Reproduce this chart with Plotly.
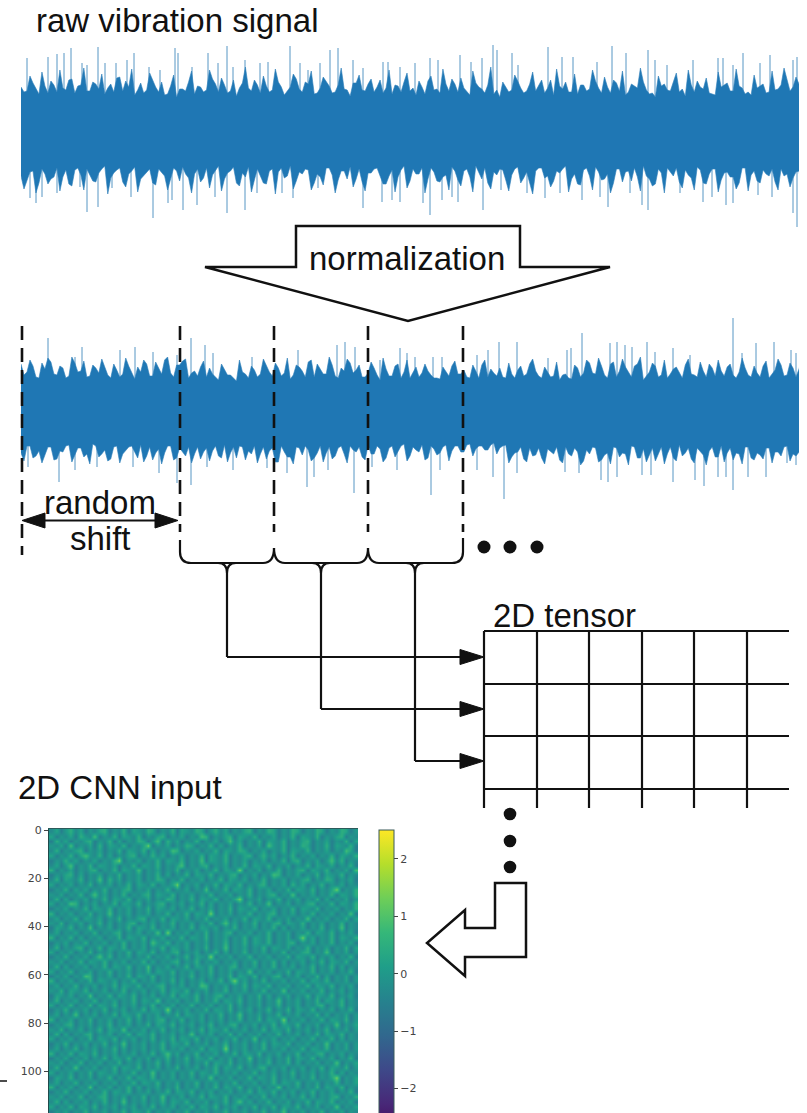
import numpy as np
import plotly.graph_objects as go

W, H = 807, 1113
BLUE = "#1f77b4"
SPIKE = "#5796c4"
INK = "#111111"

# ---------- signal data (samples on x, amplitude on y) ----------
raw_up_env = [4.3,3.9,4.7,3.6,4.4,4.9,3.8,4.2,5.0,3.7,4.5,3.9,4.8,4.1,3.6,4.6,5.2,3.9,4.3,3.5,4.7,4.0,4.9,3.8,3.5,4.4,3.3,4.1,4.8,3.6,4.3,4.0,5.1,3.8,4.5,3.9,3.4,4.7,4.2,5.0,3.7,4.4,4.0,4.8,3.5,4.3,5.1,3.8,4.6,3.6,4.2,4.9,3.7,4.5,4.1,3.4,4.7,4.0,4.6,3.8,5.0,4.2,3.6,4.4,4.8,3.9,3.5,4.3,4.9,4.0,3.7,4.6,5.1,3.8,4.2,3.5,4.7,4.1,4.5,3.6,3.3,4.3,4.0,4.9,3.7,4.6,3.9,5.0,4.2,3.5,4.4,4.8,3.8,3.6,4.5,4.1,4.9,3.7,4.3,5.0,3.9,3.5,4.6,4.2,4.8,3.6,3.3,4.4,4.0,4.7,3.8,3.4,4.5,4.9,4.1,3.7,3.5,4.3,4.7,3.9,4.4,3.6,3.5,4.2,4.6,3.8,4.0,4.5,4.9,4.3,4.6]
raw_up_fringe = [3.8,5.4,4.1,5.8,3.7,4.5,6.0,4.0,5.1,4.4,6.2,3.9,4.6,5.6,4.2,3.8,5.3,4.9,6.1,4.0,3.7,5.7,4.3,4.8,3.6,5.5,4.1,3.9,5.9,4.4,3.8,6.0,4.6,5.2,3.7,5.0,4.2,6.3,3.9,4.5,5.4,3.8,6.1,4.3,3.9,5.6,4.1,4.8,5.9,3.7,5.3,4.4,3.8,6.2,4.0,4.7,5.5,3.9,5.1,4.3,3.7,6.0,4.5,3.8,5.7,4.2,4.9,3.6,5.4,4.1,6.1,3.9,4.6,5.2,3.8,5.9,4.3,3.7,6.3,4.0,4.8,3.8,5.5,4.2,3.9,5.8,4.4,3.7,5.0,6.1,4.1,3.8,5.6,4.5,3.9,6.0,4.2,5.3,3.7,4.7,5.9,3.8,4.4,6.2,4.0,3.7,5.4,4.6,3.9,5.7,4.1,6.0,3.8,4.3,5.2,3.6,5.8,4.5,3.9,6.1,4.2,3.8,5.5,4.4,3.7,5.9,4.1,6.2,3.9,5.3]
raw_low_env = [4.6,5.0,4.1,5.3,4.4,4.9,3.8,4.7,5.4,4.0,4.5,3.9,5.1,4.3,3.6,4.8,4.0,5.2,4.4,3.7,4.9,4.2,5.3,3.9,4.6,5.0,4.1,3.7,4.8,4.4,5.2,3.8,4.5,3.6,4.9,4.1,5.3,4.3,3.7,5.0,4.6,5.4,3.9,4.2,4.8,3.6,5.1,4.4,4.0,5.3,4.7,3.8,4.5,5.0,4.1,3.7,4.9,5.2,4.3,3.9,4.6,5.4,4.0,4.7,3.6,5.1,4.4,3.8,4.9,4.2,5.2,4.5,3.7,5.0,4.1,4.7,3.6,4.9,5.3,4.2,3.9,5.0,4.5,3.7,4.8,5.3,4.1,3.8,4.6,5.1,4.3,3.6,4.9,5.4,4.0,4.6,3.7,5.0,4.4,5.3,3.9,4.2,5.1,4.7,3.6,4.9,5.4,4.3,3.8,4.6,5.2,4.0,4.8,3.7,5.3,4.4,3.9,5.0,4.2,4.7,5.3,3.8,4.5,5.1,4.0,4.6,5.2,3.9,4.4,4.8,4.1]
raw_low_fringe = [5.9,4.2,6.3,3.9,5.4,4.7,6.1,4.0,5.6,3.8,6.0,4.5,5.2,3.9,6.4,4.3,3.8,5.7,4.1,6.2,4.6,3.9,5.5,4.2,6.0,3.8,5.1,4.4,6.3,3.9,4.8,5.8,4.0,6.1,4.3,3.7,5.6,4.7,6.2,3.9,5.3,4.1,6.4,3.8,4.6,5.9,4.2,3.9,6.0,4.4,5.5,3.8,6.3,4.1,4.9,5.7,3.9,6.1,4.3,3.8,5.4,4.6,6.2,4.0,5.8,3.9,4.4,6.3,3.8,5.1,4.7,6.0,4.1,5.6,3.9,6.2,4.3,3.8,5.9,4.5,4.0,6.1,3.9,5.3,4.2,6.4,3.8,4.8,5.7,4.1,3.9,6.2,4.4,5.5,3.8,6.0,4.2,4.9,6.3,3.9,5.2,4.1,3.8,6.1,4.6,5.6,3.9,6.3,4.2,3.8,5.8,4.5,6.0,4.0,5.4,3.9,6.2,4.3,4.7,5.9,3.8,6.1,4.1,5.3,4.4,3.9,6.0,4.6,5.7,4.2,6.2]
raw_up_x = [27,48,57,64,71,82,87,98,105,116,127,134,149,160,175,178,192,208,218,227,233,245,260,268,290,300,308,320,330,338,353,363,383,388,400,415,430,438,460,471,482,493,497,512,518,548,562,573,597,612,626,648,655,667,693,718,723,733,743,760,770,793,797]
raw_up_amp = [7.2,7.3,7.6,7.7,8.2,6.7,6.5,8.3,6.7,6.7,7.0,7.7,6.3,6.0,8.2,7.7,6.3,7.7,6.7,8.4,6.3,7.0,6.7,6.8,8.4,6.7,6.0,6.7,8.0,8.2,7.0,6.2,6.8,6.8,6.3,6.7,7.2,7.0,7.5,6.8,7.2,8.5,8.0,7.7,6.5,8.3,7.3,7.3,6.8,8.4,7.7,8.0,7.0,6.5,7.0,7.2,7.2,6.5,7.7,6.7,7.5,7.0,7.3]
raw_low_x = [30,36,42,57,80,87,98,112,131,153,168,172,183,197,215,227,245,257,282,293,318,363,382,392,400,423,430,442,452,458,483,501,527,545,560,582,600,608,630,642,648,680,703,712,726,733,758,772,793,797]
raw_low_amp = [6.8,7.3,6.7,6.3,5.7,8.2,7.7,5.8,6.7,8.8,7.3,7.0,8.0,7.5,6.7,8.3,8.0,6.3,6.3,6.8,5.8,7.8,7.2,7.0,7.2,7.3,8.5,7.0,6.7,7.2,8.0,6.0,6.3,6.8,6.3,7.0,6.7,7.7,6.3,7.5,8.0,6.3,7.2,6.7,7.5,7.3,6.5,6.7,8.3,9.7]

norm_up_env = [4.6,3.8,4.4,3.2,4.1,4.8,3.5,4.2,3.4,4.7,3.9,3.3,4.5,3.7,4.3,3.2,4.0,3.6,4.4,3.1,3.8,4.6,3.4,4.2,5.0,3.7,4.5,4.9,3.2,3.9,4.3,3.3,3.6,3.0,4.1,3.5,2.9,3.8,3.2,4.0,3.6,4.4,3.4,4.2,3.7,3.1,4.5,3.9,4.8,3.3,4.1,3.6,4.5,3.2,3.9,4.7,4.0,3.3,3.7,4.2,3.0,4.1,3.4,4.6,3.8,3.2,4.3,3.7,3.9,3.2,3.1,3.8,4.4,3.6,4.0,3.2,3.9,4.5,3.3,3.7,4.2,3.2,3.6,4.0,3.4,4.6,3.9,3.2,3.8,3.4,3.0,3.6,3.1,4.2,3.7,4.7,3.6,4.4,3.2,4.8,3.9,4.3,3.3,4.6,3.0,3.8,4.4,3.5,3.2,4.1,3.7,4.5,3.6,3.3,3.9,4.6,3.4,3.9,4.3,3.5,3.8,4.2,3.3,3.7,4.4,3.2,4.0,4.5,3.5,4.2,4.1]
norm_up_fringe = [3.5,5.0,3.3,4.7,5.2,3.6,4.4,3.2,5.3,3.8,4.9,3.4,4.2,5.1,3.5,4.6,3.3,5.2,3.7,4.3,5.0,3.4,4.8,3.6,5.3,3.3,4.5,5.1,3.7,3.4,4.9,4.2,3.3,4.6,3.5,3.2,5.0,3.6,4.4,3.3,5.1,3.8,4.7,3.4,5.2,3.5,4.3,3.3,5.0,4.6,3.6,5.3,3.4,4.2,5.1,3.7,4.5,3.3,4.8,3.5,5.2,3.4,4.4,3.2,5.0,3.8,3.3,4.6,3.5,3.2,4.3,3.4,4.9,3.6,3.3,4.5,3.2,5.0,4.1,3.4,3.3,4.7,3.2,4.4,3.6,5.1,3.4,4.3,3.3,4.8,3.5,3.2,4.5,3.3,5.0,3.7,5.2,3.5,4.6,3.3,5.1,3.8,4.4,5.3,3.4,4.7,3.3,5.0,3.6,4.3,3.2,5.1,3.5,4.8,3.3,4.2,5.0,3.4,4.6,3.2,5.2,3.5,4.4,3.3,4.9,3.6,5.1,3.4,4.7,3.3,5.2]
norm_low_env = [4.3,3.6,4.8,4.1,4.5,3.7,4.9,4.2,3.5,4.6,3.8,4.4,3.4,4.7,4.0,4.9,3.6,4.4,3.7,4.2,3.5,4.6,5.0,3.9,4.3,3.6,4.8,4.2,3.7,4.4,4.9,3.8,4.1,4.6,3.5,4.3,4.8,3.7,4.1,3.6,4.4,4.9,3.8,5.2,4.2,4.7,3.7,4.5,4.0,4.8,3.6,4.3,4.9,3.8,4.4,3.6,4.2,4.7,3.5,4.4,3.9,4.8,3.6,4.2,3.4,4.6,4.0,3.5,4.8,3.9,4.3,3.5,4.1,3.6,4.2,3.4,3.9,3.6,4.0,3.3,3.8,3.5,4.7,4.2,4.9,3.8,4.5,4.8,3.9,4.4,5.0,3.7,4.6,4.2,5.1,4.4,3.8,5.0,4.3,3.7,4.7,4.4,3.6,4.8,3.9,4.5,5.1,3.7,4.4,4.8,3.5,4.3,4.9,3.8,4.5,4.1,4.7,3.6,4.3,5.0,4.4,3.7,4.8,4.3,4.9,3.8,4.2,4.6,3.6,4.4,4.2]
norm_low_fringe = [5.1,3.6,4.6,5.3,3.7,5.0,4.1,3.6,5.2,3.8,4.7,5.4,3.6,4.4,5.1,3.7,5.3,4.0,3.6,4.8,5.2,3.7,4.3,5.4,3.6,5.0,3.8,4.6,5.3,3.7,4.2,5.1,3.6,4.8,5.2,3.7,3.6,5.0,4.4,5.3,3.7,4.1,5.2,3.6,4.7,5.4,3.8,3.6,5.1,4.3,5.2,3.7,4.6,3.6,5.3,4.0,3.7,5.0,4.4,3.6,5.2,3.8,4.7,3.6,5.1,3.7,4.2,5.0,3.6,4.5,3.7,5.1,3.6,4.2,3.5,4.6,3.6,4.0,3.5,4.4,3.6,5.3,4.3,3.7,5.2,4.6,3.8,5.4,4.1,3.7,5.3,4.4,3.8,5.5,4.0,3.7,5.2,4.5,5.4,3.8,4.3,5.5,3.7,4.8,5.2,3.8,4.4,5.4,3.7,5.1,4.6,3.8,5.3,4.1,5.5,3.7,4.7,5.2,3.8,4.3,5.4,3.7,5.0,4.5,3.8,5.3,4.2,3.7,5.1,4.6,5.2]
norm_up_x = [48,75,82,120,135,153,177,191,205,213,252,298,337,345,355,380,400,407,415,433,442,477,488,499,517,548,567,571,582,610,617,625,632,647,655,673,690,733,742,756,774,791,796]
norm_up_amp = [7.2,5.3,6.3,6.0,6.3,5.8,5.5,7.2,6.5,5.7,5.3,6.0,6.5,6.8,6.3,5.0,6.2,5.7,5.3,5.3,5.3,5.5,6.0,6.8,6.8,5.2,6.0,6.2,7.7,6.7,6.8,6.5,6.3,6.8,5.8,6.2,5.5,9.2,5.7,6.7,6.8,6.0,5.7]
norm_low_x = [28,59,75,97,133,159,177,191,207,233,267,287,307,314,328,354,372,397,431,440,477,493,504,517,565,579,601,608,617,642,651,673,695,704,718,726,733,748,766,787,796]
norm_low_amp = [5.7,7.2,6.0,5.7,5.7,6.3,7.3,7.5,5.7,6.0,5.8,6.3,7.7,6.7,6.0,8.3,5.7,6.0,8.5,6.0,6.0,6.7,8.9,6.3,6.2,6.3,7.0,7.2,6.7,6.5,6.5,7.2,7.0,7.6,6.7,6.7,8.0,6.7,6.7,5.3,5.5]

# ---------- 2D CNN input: coarse estimate of the image, one digit per patch ----------
cnn_levels = [-1.1,-0.8,-0.55,-0.3,0.0,0.25,0.5,0.85,1.25,1.7]
cnn_rows = [
"3524635243562436254365243625436524635243562436524365243652436524",
"5243526437243625436243562435243762435625436243524362543624356243",
"2635243562436252436524726352436243524735243625436243562435243625",
"4352724352625436243582435243652436252436243527436243652436254362",
"3624356243524362543625243762435243625436524352436254362435243752",
"5243625743625243562436352435243625436243562463524362435243625436",
"2436352435243682435243625436243725436243524352436256243524736243",
"3524724362543524362543624357243562435243625436243524362543524362",
"6243524356243625437243524362435243625438243524362435625436243527",
"2435625243524362435243625243625436243562435243762435243625436243",
"3625436243726352435243652436243524362543524362435243562436524352",
"5243524362435243625436243582435243625436243562435263524362435243",
"2436253524362435624352436243524372436254362435243625436243582436",
"4352436247352436243562543624352436243524362435624372435243625436",
"3625243524362543624352436524362543624358243524362435243625243524",
"5243762435243625436243562435243625243524362437243524356243625436",
"2435243625436243524362543524362435243625436243524362543624352436",
"6243524362437243524352436243625438243524362435624352436243524372",
"3524362543524362435624362543524362435243625436243524372435243625",
"4362435243625243562435243624352436247352436243562543624352436243",
"2543624372435243625436243524362543524362435243625243524362437243",
"3524352436243562435243728243524362435624352436243524362543624352",
"6243625243524362543624352436254362435243625436243524835243625436",
"2435243624352436243527436243524352436243625436243562435243624352",
"3624356243625436243524362543524362437243524362543524362435243625",
"5243524362435243625436243562435243625243624352436243562437243524",
"2436243524736243524362435243625438243524362435243625436243524362",
"4352436254362435243625243562436243524352436243625243524362543624",
"3625243524362543624372435243625436243562435243624352436243625243",
"5243624352436243524362543624352436243524372435243625436243524362",
"2435243762435243625436243524362435243625436243562435243625243524",
"6243524362543524362435243625243524362583524362435243625436243524",
"3524362435243625436243562435243762435243625436243524362543624352",
"4362543624352436243524362543624352436243524362437243524362435243",
"2543524372436254362435243625436243562435243625243524362543624352",
"3624352436243524362543724352436243625436243524372435243625436243",
"5243624362543624352436243524362435243625243524362435243562436243",
"2436243524362435243625438243524362543624352436243625436243524362",
"3524372435243625436243524362543524362437243524362435243625243524",
"6243524362435243625243562436243524352436243625438243524362543624",
"2435624352436243524362543624352436243562435243625436243524372435",
"4362435243625437243524362435243625436243524362543624352436243524",
"3625243562435243625436243524372435243625243524362435243625436243",
"5243524362543624352436243625436243524362437243524352436243625243",
"2436243524362437243524362543624352436243524362543624352437243524",
"3524362435243625243524362435243625438243524362435243625436243524",
"6243625436243524352436247352436243524362543624352436243562435243",
"2435243524362543624352436243625436243524372435243625436243524362",
"4352436243524362435243625243524362543624352436243625243524372435",
"3624372435243625436243524362435243625436243562435243524362543624",
"5243524362543524362437243524362543624352436243524362435243625243",
"2543624352436243625436243524352437243524362543624352436243582435",
"3524362435243524362543624352436243524362435243625436243524362435",
"6243524372435243625243524362435243625436243524372435243625436243",
"2436243524362543624352436254362435243524362543624352436243524362",
"4352436243562435243624372435243625436243524362435243625243562436",
"3625243524362437243524362543624352436247352436243524362543624352",
"5243625436243524352436243524362543624352436243625436243524372435",
"2435243624352436254362435243624352436243524362437243524362435243",
]
cbar_ticks = [-2, -1, 0, 1, 2]
heat_ticks = [0, 20, 40, 60, 80, 100]

# ---------- helpers: picture pixels to paper fractions ----------
def px(x): return x / W
def py(y): return 1 - y / H
def poly(pts): return "M" + " L".join(f"{px(x):.5f},{py(y):.5f}" for x, y in pts) + " Z"

fig = go.Figure()

def spikes(xa, ya, xs, amps, sign, color, width):
    sx, sy = [], []
    for x, a in zip(xs, amps):
        sx += [x, x, None]; sy += [0, sign * a, None]
    fig.add_trace(go.Scatter(x=sx, y=sy, mode="lines", line=dict(color=color, width=width),
                             xaxis=xa, yaxis=ya, hoverinfo="skip", showlegend=False))

def edge(env, fringe):
    """Alternate the envelope and fringe readings along the sample axis."""
    pos = np.linspace(21, 799, len(env))
    step = pos[1] - pos[0]
    xs, ys = [], []
    for i, v in enumerate(env):
        xs.append(pos[i]); ys.append(v)
        if i < len(fringe):
            xs.append(pos[i] + step / 2); ys.append(fringe[i])
    return np.array(xs), np.array(ys)

def signal(xa, ya, up_env, up_fr, low_env, low_fr, up_x, up_amp, low_x, low_amp):
    spikes(xa, ya, up_x, up_amp, 1, SPIKE, 1)
    spikes(xa, ya, low_x, low_amp, -1, SPIKE, 1)
    ux, uy = edge(up_env, up_fr)
    lx, ly = edge(low_env, low_fr)
    fig.add_trace(go.Scatter(
        x=np.r_[ux, lx[::-1]], y=np.r_[uy, -ly[::-1]], mode="lines", fill="toself",
        fillcolor=BLUE, line=dict(color="#2f80ba", width=0.6),
        xaxis=xa, yaxis=ya, hoverinfo="skip", showlegend=False))

signal("x", "y", raw_up_env, raw_up_fringe, raw_low_env, raw_low_fringe,
       raw_up_x, raw_up_amp, raw_low_x, raw_low_amp)
signal("x2", "y2", norm_up_env, norm_up_fringe, norm_low_env, norm_low_fringe,
       norm_up_x, norm_up_amp, norm_low_x, norm_low_amp)

z = [[cnn_levels[int(c)] for c in row] for row in cnn_rows]
fig.add_trace(go.Heatmap(
    z=z, x0=0.5, dx=2.0, y0=0.5, dy=2.0, xaxis="x3", yaxis="y3",
    colorscale="Viridis", zmin=-2.86, zmax=2.5, zsmooth="best", hoverinfo="skip",
    colorbar=dict(
        x=px(379), xanchor="left", xpad=0, y=py(830), yanchor="top", ypad=0,
        lenmode="pixels", len=308, thicknessmode="pixels", thickness=15,
        outlinecolor="#3a5a5a", outlinewidth=1, tickvals=cbar_ticks,
        ticktext=["\u22122", "\u22121", "0", "1", "2"],
        ticks="outside", ticklen=4, tickcolor="#444444", tickwidth=1,
        tickfont=dict(family="DejaVu Sans", size=11, color="#444444"))))

common = dict(showgrid=False, zeroline=False, showticklabels=False, ticks="", showline=False)
fig.update_layout(
    width=W, height=H, margin=dict(l=0, r=0, t=0, b=0, autoexpand=False),
    paper_bgcolor="white", plot_bgcolor="white", showlegend=False,
    xaxis=dict(domain=[px(21), px(799)], range=[21, 799], anchor="y", **common),
    yaxis=dict(domain=[py(230), py(30)], range=[-10, 10], anchor="x", **common),
    xaxis2=dict(domain=[px(21), px(799)], range=[21, 799], anchor="y2", **common),
    yaxis2=dict(domain=[py(510), py(310)], range=[-10, 10], anchor="x2", **common),
    xaxis3=dict(domain=[px(49), px(358)], range=[-0.5, 127.5], anchor="y3", side="top",
                showgrid=False, zeroline=False, showticklabels=False, ticks="",
                showline=True, linecolor="#2c5a5a", linewidth=1),
    yaxis3=dict(domain=[0, py(829)], range=[117.3, -0.5], anchor="x3", showgrid=False, zeroline=False,
                tickvals=heat_ticks, ticks="outside", ticklen=4, tickcolor="#444444",
                showline=True, linecolor="#1f4a4a", linewidth=1,
                tickfont=dict(family="DejaVu Sans", size=11, color="#444444")),
)

shapes = []
def line(pts, width=2.2, dash=None):
    shapes.append(dict(type="line", xref="paper", yref="paper",
                       x0=px(pts[0][0]), y0=py(pts[0][1]), x1=px(pts[1][0]), y1=py(pts[1][1]),
                       line=dict(color=INK, width=width, dash=dash), layer="above"))
def polygon(pts, fill="white", width=2.5):
    shapes.append(dict(type="path", xref="paper", yref="paper", path=poly(pts), fillcolor=fill,
                       line=dict(color=INK, width=width), layer="above"))
def dot(x, y, r):
    shapes.append(dict(type="circle", xref="paper", yref="paper", x0=px(x-r), x1=px(x+r),
                       y0=py(y-r), y1=py(y+r), fillcolor=INK, line=dict(width=0), layer="above"))
def curve(p0, c, p1):
    shapes.append(dict(type="path", xref="paper", yref="paper", layer="above",
                       path=f"M{px(p0[0]):.5f},{py(p0[1]):.5f} Q{px(c[0]):.5f},{py(c[1]):.5f} {px(p1[0]):.5f},{py(p1[1]):.5f}",
                       line=dict(color=INK, width=2.2)))

# big downward arrow
polygon([(296,226),(520,226),(520,267),(610,267),(408,321),(205,267),(296,267)])
# dashed guides
for x, y1 in [(22,555),(180,532),(274,532),(368,532),(463,532)]:
    line([(x,326),(x,y1)], width=2.6, dash="14px,8px")
# random-shift arrow
line([(40,520.5),(160,520.5)], width=2.2)
polygon([(22,520.5),(45,513),(45,528)], fill=INK, width=1)
polygon([(178,520.5),(155,513),(155,528)], fill=INK, width=1)
# brace
line([(180,540),(180,552)])
curve((180,552),(180,563),(191,563))
line([(191,563),(263,563)])
curve((263,563),(274,563),(274,548))
curve((274,548),(274,563),(285,563))
line([(285,563),(357,563)])
curve((357,563),(368,563),(368,548))
curve((368,548),(368,563),(379,563))
line([(379,563),(452,563)])
curve((452,563),(463,563),(463,552))
line([(463,552),(463,538)])
# feeders to tensor rows
for x, y in [(227,657),(321,709),(415,761)]:
    curve((x-9,563),(x,563),(x,573)); curve((x+9,563),(x,563),(x,573))
    line([(x,573),(x,y)])
    line([(x,y),(463,y)])
    polygon([(484,y),(460,y-7.5),(460,y+7.5)], fill=INK, width=1)
# tensor grid
for y in [631,684,736,789]:
    line([(484,y),(789,y)])
for x in [484,537,589,642,694,747]:
    line([(x,631),(x,808)])
# bottom arrow
polygon([(495,883),(526,883),(526,957),(465,957),(465,976),(427,943),(465,910),(465,928),(495,928)])
for x in [484,510,537]:
    dot(x,547,6.5)
for y in [814,841,867]:
    dot(510,y,6.3)
line([(0,1081),(7,1081)], width=1.5)
fig.update_layout(shapes=shapes)

FONT = dict(family="Liberation Sans, Arial, sans-serif", size=33, color=INK)
for text, x, y in [("raw vibration signal",177,21),("normalization",407,259),("random",99.5,502),
                   ("shift",100,538),("2D tensor",564,615),("2D CNN input",120,787)]:
    fig.add_annotation(text=text, xref="paper", yref="paper", x=px(x), y=py(y), showarrow=False,
                       xanchor="center", yanchor="middle", font=FONT)

fig.write_html("out.html", config={"displayModeBar": False},
               post_script="document.body.style.margin='0';document.body.style.overflow='hidden';")
